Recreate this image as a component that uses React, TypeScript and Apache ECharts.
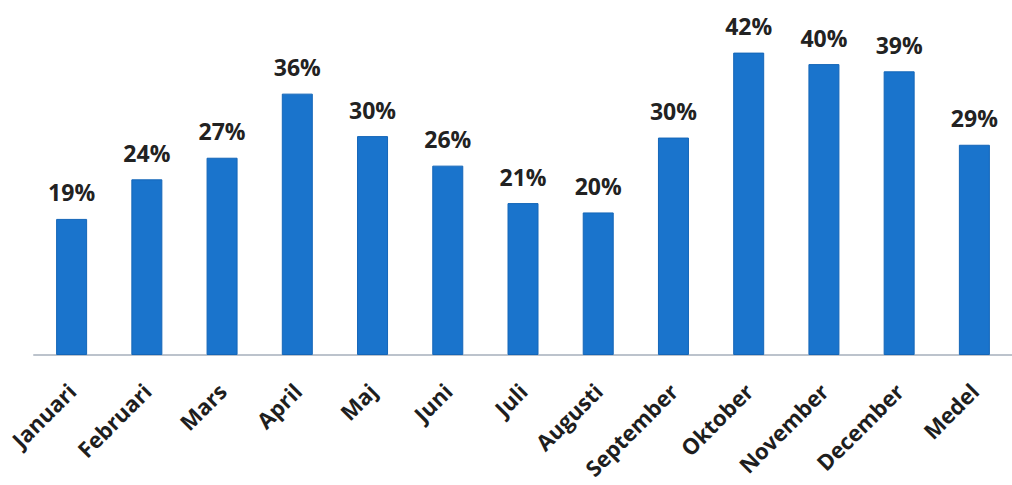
import React, { useEffect, useRef } from "react";
import * as echarts from "echarts";

const categories = ["Januari", "Februari", "Mars", "April", "Maj", "Juni", "Juli", "Augusti", "September", "Oktober", "November", "December", "Medel"];
const values = [18.9, 24.4, 27.4, 36.3, 30.4, 26.3, 21.1, 19.8, 30.2, 42.0, 40.4, 39.4, 29.2];

export default function App() {
  const ref = useRef<HTMLDivElement>(null);
  useEffect(() => {
    const chart = echarts.init(ref.current!, null, { renderer: "svg" });
    chart.setOption({
      animation: false,
      backgroundColor: "#ffffff",
      grid: { left: 34, top: 31, width: 985, height: 324, containLabel: false },
      xAxis: {
        type: "category",
        data: categories,
        axisLine: { show: true, lineStyle: { color: "#bcc3cc", width: 2 } },
        axisTick: { show: false },
        axisLabel: {
          rotate: 45,
          margin: 32,
          interval: 0,
          color: "#1e1e1e",
          fontFamily: "Open Sans",
          fontWeight: "bold",
          fontSize: 22,
        },
      },
      yAxis: {
        type: "value",
        min: 0,
        max: 45,
        show: false,
        splitLine: { show: false },
      },
      series: [
        {
          type: "bar",
          data: values,
          barWidth: 31,
          itemStyle: { color: "#1a74cc", borderColor: "#1466b8", borderWidth: 1 },
          label: {
            show: true,
            position: "top",
            distance: 15,
            formatter: (p: any) => Math.round(p.value) + "%",
            color: "#222222",
            fontFamily: "Open Sans",
            fontWeight: "bold",
            fontSize: 23,
          },
        },
      ],
    });
    return () => chart.dispose();
  }, []);
  return <div ref={ref} style={{ position: "fixed", left: 0, top: 0, width: 1012, height: 485 }} />;
}
